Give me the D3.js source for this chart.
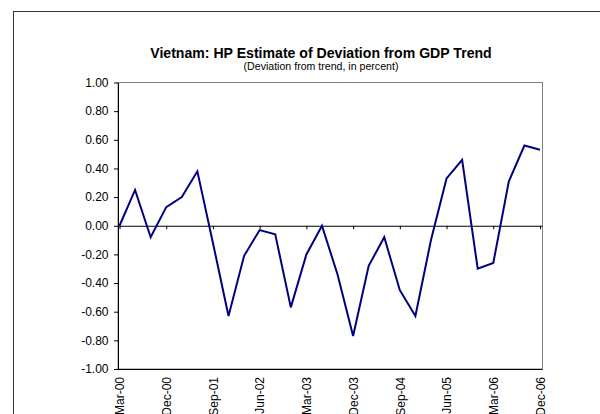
<!DOCTYPE html>
<html><head><meta charset="utf-8">
<script src="https://cdn.jsdelivr.net/npm/d3@7"></script>
<style>html,body{margin:0;padding:0;background:#fff;}svg{display:block;}</style>
</head><body>
<script>
const quarters = ["Mar-00","Jun-00","Sep-00","Dec-00","Mar-01","Jun-01","Sep-01","Dec-01",
  "Mar-02","Jun-02","Sep-02","Dec-02","Mar-03","Jun-03","Sep-03","Dec-03",
  "Mar-04","Jun-04","Sep-04","Dec-04","Mar-05","Jun-05","Sep-05","Dec-05",
  "Mar-06","Jun-06","Sep-06","Dec-06"];
const deviation = [0.00,0.25,-0.08,0.13,0.20,0.38,-0.12,-0.63,
  -0.21,-0.03,-0.06,-0.57,-0.20,0.00,-0.34,-0.77,
  -0.28,-0.08,-0.45,-0.63,-0.10,0.33,0.46,-0.30,
  -0.26,0.31,0.56,0.53];
const labelQuarters = ["Mar-00","Dec-00","Sep-01","Jun-02","Mar-03","Dec-03","Sep-04","Jun-05","Mar-06","Dec-06"];
const yTicks = [1.0,0.8,0.6,0.4,0.2,0.0,-0.2,-0.4,-0.6,-0.8,-1.0];
const titleText = "Vietnam: HP Estimate of Deviation from GDP Trend";
const subtitleText = "(Deviation from trend, in percent)";

(function(){
const W = 600, H = 414;
const svg = d3.select("body").append("svg").attr("width", W).attr("height", H);
const font = "Arial, 'Liberation Sans', sans-serif";

// chart outer border
svg.append("rect").attr("x", 13.5).attr("y", 11.5).attr("width", 700).attr("height", 500)
  .attr("fill", "none").attr("stroke", "#333").attr("stroke-width", 1);

const pL = 118, pR = 542.5, pT = 82.5, pB = 369;
const x = d3.scalePoint().domain(quarters).range([119.5, 540]);
const y = d3.scaleLinear().domain([-1, 1]).range([pB, pT]);

// plot area border
svg.append("rect").attr("x", pL).attr("y", pT).attr("width", pR - pL).attr("height", pB - pT)
  .attr("fill", "none").attr("stroke", "#808080").attr("stroke-width", 1);

// bottom border black
svg.append("line").attr("x1", pL).attr("x2", pR).attr("y1", pB + 0.5).attr("y2", pB + 0.5)
  .attr("stroke", "#000").attr("stroke-width", 1);

// title
svg.append("text").attr("x", 321).attr("y", 57.5).attr("text-anchor", "middle")
  .attr("font-family", font).attr("font-weight", "bold").attr("font-size", 14.1).text(titleText);
svg.append("text").attr("x", 321).attr("y", 70).attr("text-anchor", "middle")
  .attr("font-family", font).attr("font-size", 10.6).text(subtitleText);

// y axis
const yAxis = d3.axisLeft(y).tickValues(yTicks).tickSize(4).tickSizeOuter(0)
  .tickFormat(d => d3.format(".2f")(d).replace("\u2212", "-"));
const gy = svg.append("g").attr("transform", `translate(${pL},0)`).call(yAxis);
gy.select(".domain").attr("stroke", "#000");
gy.selectAll(".tick line").attr("stroke", "#000");
gy.selectAll(".tick text").attr("font-family", font).attr("font-size", 12).attr("fill", "#000")
  .attr("x", -9.5);

// zero axis with ticks
const xAxis = d3.axisBottom(x).tickValues(labelQuarters).tickSize(3.5).tickSizeOuter(0).tickFormat("");
const gx = svg.append("g").attr("transform", `translate(0,${y(0)})`).call(xAxis);
gx.select(".domain").attr("stroke", "#000").attr("d", `M${pL},0.5H${pR}`);
gx.selectAll(".tick line").attr("stroke", "#000");

// bottom labels
const xLab = d3.axisBottom(x).tickValues(labelQuarters).tickSize(0);
const gl = svg.append("g").attr("transform", `translate(0,${pB})`).call(xLab);
gl.select(".domain").remove();
gl.selectAll(".tick text").attr("font-family", font).attr("font-size", 12).attr("fill", "#000")
  .attr("transform", "rotate(-90)").attr("text-anchor", "end").attr("x", -8).attr("y", 0).attr("dy", "0.35em");

// line
const line = d3.line().x((d, i) => x(quarters[i])).y(d => y(d));
svg.append("path").datum(deviation).attr("d", line).attr("fill", "none")
  .attr("stroke", "#000080").attr("stroke-width", 2).attr("stroke-linejoin", "miter");
})();
</script>
</body></html>
